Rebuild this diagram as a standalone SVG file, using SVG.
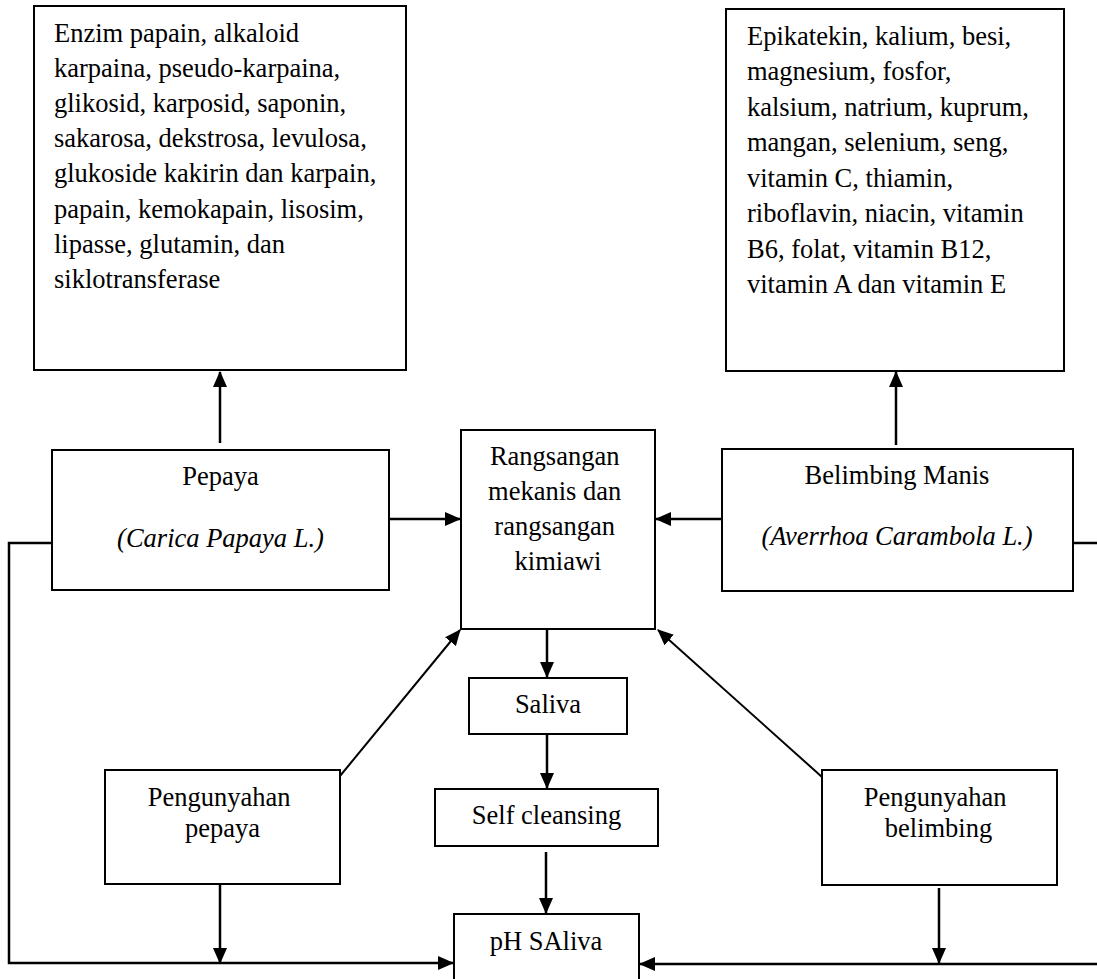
<svg xmlns="http://www.w3.org/2000/svg" width="1097" height="979" viewBox="0 0 1097 979">
<style>
.box{fill:#fff;stroke:#000;stroke-width:2}
.t{font-family:"Liberation Serif","Times New Roman",serif;font-size:26.5px;fill:#000}
.c{text-anchor:middle}
.i{font-style:italic}
.con{fill:none;stroke:#000;stroke-width:2.5}
.diag{fill:none;stroke:#000;stroke-width:2}
</style>
<defs>
<marker id="ah" markerUnits="userSpaceOnUse" viewBox="0 0 16 16" markerWidth="16" markerHeight="16" refX="15" refY="8" orient="auto">
<path d="M0,1 L16,8 L0,15 z" fill="#000"/>
</marker>
</defs>
<rect width="1097" height="979" fill="#fff"/>

<g id="connectors">
<line class="con" x1="220" y1="443" x2="220" y2="372" marker-end="url(#ah)"/>
<line class="con" x1="896" y1="445" x2="896" y2="372" marker-end="url(#ah)"/>
<line class="con" x1="387" y1="519" x2="460" y2="519" marker-end="url(#ah)"/>
<line class="con" x1="722" y1="519" x2="656" y2="519" marker-end="url(#ah)"/>
<line class="con" x1="547" y1="629" x2="547" y2="677" marker-end="url(#ah)"/>
<line class="con" x1="547" y1="734" x2="547" y2="788" marker-end="url(#ah)"/>
<line class="con" x1="546" y1="852" x2="546" y2="913" marker-end="url(#ah)"/>
<line class="diag" x1="340" y1="776" x2="460" y2="630" marker-end="url(#ah)"/>
<line class="diag" x1="822" y1="777" x2="658" y2="630" marker-end="url(#ah)"/>
<line class="con" x1="220" y1="884" x2="220" y2="963" marker-end="url(#ah)"/>
<line class="con" x1="939" y1="888" x2="939" y2="963" marker-end="url(#ah)"/>
<path class="con" d="M52,543 H9 V963 H453" marker-end="url(#ah)"/>
<path class="con" d="M1073,543 H1100 V964 H640" marker-end="url(#ah)"/>
</g>

<g id="kandungan-pepaya">
<rect class="box" x="34" y="6" width="372" height="364"/>
<text class="t" x="54" y="42">
<tspan x="54" y="42">Enzim papain, alkaloid</tspan>
<tspan x="54" y="77">karpaina, pseudo-karpaina,</tspan>
<tspan x="54" y="112">glikosid, karposid, saponin,</tspan>
<tspan x="54" y="147">sakarosa, dekstrosa, levulosa,</tspan>
<tspan x="54" y="182">glukoside kakirin dan karpain,</tspan>
<tspan x="54" y="218">papain, kemokapain, lisosim,</tspan>
<tspan x="54" y="253">lipasse, glutamin, dan</tspan>
<tspan x="54" y="288">siklotransferase</tspan>
</text>
</g>

<g id="kandungan-belimbing">
<rect class="box" x="726" y="9" width="338" height="362"/>
<text class="t" x="747" y="45">
<tspan x="747" y="45">Epikatekin, kalium, besi,</tspan>
<tspan x="747" y="80">magnesium, fosfor,</tspan>
<tspan x="747" y="116">kalsium, natrium, kuprum,</tspan>
<tspan x="747" y="151">mangan, selenium, seng,</tspan>
<tspan x="747" y="187">vitamin C, thiamin,</tspan>
<tspan x="747" y="222">riboflavin, niacin, vitamin</tspan>
<tspan x="747" y="258">B6, folat, vitamin B12,</tspan>
<tspan x="747" y="293">vitamin A dan vitamin E</tspan>
</text>
</g>

<g id="pepaya">
<rect class="box" x="52" y="450" width="337" height="140"/>
<text class="t c" x="220.5" y="485">Pepaya</text>
<text class="t c i" x="220.5" y="547">(Carica Papaya L.)</text>
</g>

<g id="rangsangan">
<rect class="box" x="461" y="430" width="194" height="199"/>
<text class="t c" x="558" y="465">
<tspan x="558" y="465">Rangsangan</tspan>
<tspan x="558" y="500">mekanis dan</tspan>
<tspan x="558" y="535">rangsangan</tspan>
<tspan x="558" y="570">kimiawi</tspan>
</text>
</g>

<g id="belimbing">
<rect class="box" x="722" y="449" width="351" height="142"/>
<text class="t c" x="897" y="484">Belimbing Manis</text>
<text class="t c i" x="897" y="545">(Averrhoa Carambola L.)</text>
</g>

<g id="saliva">
<rect class="box" x="469" y="678" width="158" height="56"/>
<text class="t c" x="548" y="713">Saliva</text>
</g>

<g id="self-cleansing">
<rect class="box" x="435" y="789" width="223" height="57"/>
<text class="t c" x="546.5" y="824">Self cleansing</text>
</g>

<g id="ph-saliva">
<rect class="box" x="454" y="914" width="185" height="80"/>
<text class="t c" x="546" y="950">pH SAliva</text>
</g>

<g id="pengunyahan-pepaya">
<rect class="box" x="105" y="770" width="235" height="114"/>
<text class="t c" x="222.5" y="806">
<tspan x="222.5" y="806">Pengunyahan</tspan>
<tspan x="222.5" y="837">pepaya</tspan>
</text>
</g>

<g id="pengunyahan-belimbing">
<rect class="box" x="822" y="770" width="235" height="115"/>
<text class="t c" x="938.5" y="806">
<tspan x="938.5" y="806">Pengunyahan</tspan>
<tspan x="938.5" y="837">belimbing</tspan>
</text>
</g>
</svg>
